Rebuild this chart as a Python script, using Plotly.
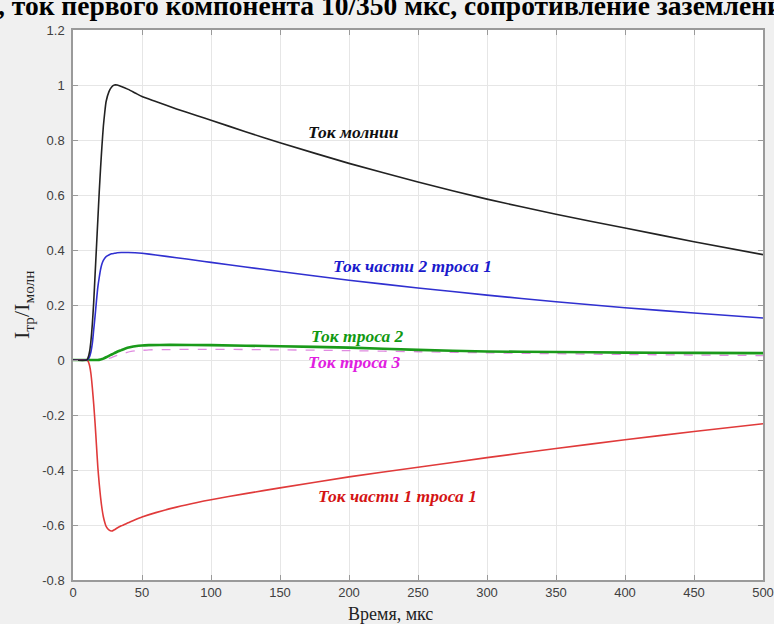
import plotly.graph_objects as go

# Time samples, microseconds
t_fast = [0, 10, 11, 12, 13, 14, 15, 16, 17, 18, 19, 20, 21, 22, 23, 24, 26, 28, 30, 32, 35, 40, 45, 50, 60,
          75, 90, 100, 125, 150, 200, 250, 300, 350, 400, 450, 500]

# Lightning current, normalised
i_lightning = [0, 0, 0.01, 0.03, 0.07, 0.13, 0.21, 0.31, 0.41, 0.51, 0.61, 0.70, 0.78, 0.85, 0.90, 0.94, 0.975, 0.993, 1.0, 1.0,
               0.995, 0.984, 0.971, 0.958, 0.94, 0.913, 0.888, 0.872, 0.83, 0.79, 0.715, 0.647, 0.585, 0.53, 0.48, 0.43, 0.383]

# Part 2 of cable 1
i_part2 = [0, 0, 0.003, 0.012, 0.03, 0.06, 0.11, 0.16, 0.215, 0.265, 0.30, 0.33, 0.35, 0.362, 0.37, 0.376, 0.382, 0.386, 0.388, 0.39,
           0.391, 0.391, 0.39, 0.388, 0.382, 0.372, 0.362, 0.355, 0.338, 0.322, 0.29, 0.262, 0.236, 0.212, 0.19, 0.171, 0.153]

# Part 1 of cable 1
i_part1 = [0, 0, -0.005, -0.02, -0.05, -0.1, -0.16, -0.23, -0.31, -0.39, -0.45, -0.50, -0.54, -0.57, -0.59, -0.605, -0.618, -0.622, -0.617, -0.611,
           -0.603, -0.592, -0.581, -0.571, -0.555, -0.535, -0.518, -0.508, -0.486, -0.465, -0.425, -0.39, -0.355, -0.322, -0.29, -0.26, -0.232]

t_slow = [0, 10, 18, 20, 22, 24, 26, 28, 30, 32, 35, 38, 42, 45, 50, 55, 70, 100, 150, 200, 250, 300, 350, 400, 450, 500]

# Cable 2
i_cable2 = [0, 0, 0, 0.002, 0.005, 0.01, 0.015, 0.02, 0.025, 0.03, 0.036, 0.042, 0.047, 0.05, 0.053, 0.054, 0.055, 0.054, 0.05, 0.045,
            0.037, 0.031, 0.029, 0.027, 0.026, 0.025]

# Cable 3
i_cable3 = [0, 0, 0, 0, 0.001, 0.003, 0.006, 0.009, 0.013, 0.017, 0.022, 0.026, 0.031, 0.033, 0.035, 0.037, 0.038, 0.039, 0.037, 0.034,
            0.03, 0.026, 0.023, 0.02, 0.018, 0.016]

x_ticks = [0, 50, 100, 150, 200, 250, 300, 350, 400, 450, 500]
y_ticks = [-0.8, -0.6, -0.4, -0.2, 0, 0.2, 0.4, 0.6, 0.8, 1, 1.2]
y_tick_text = ["-0.8", "-0.6", "-0.4", "-0.2", "0", "0.2", "0.4", "0.6", "0.8", "1", "1.2"]

labels = ["Ток молнии", "Ток части 2 троса 1", "Ток троса 2", "Ток троса 3", "Ток части 1 троса 1"]
label_t = [203, 246, 206, 204, 235]
label_v = [0.83, 0.342, 0.087, -0.007, -0.495]
label_colors = ["#111111", "#1a1acc", "#119911", "#e020e0", "#d41414"]

fig = go.Figure()
fig.add_trace(go.Scatter(x=t_slow, y=i_cable3, mode="lines",
                         line=dict(color="#e08ae0", width=1.3, dash="dash", shape="spline", smoothing=0.6)))
fig.add_trace(go.Scatter(x=t_slow, y=i_cable2, mode="lines",
                         line=dict(color="#1a9a1a", width=2.6, shape="spline", smoothing=0.6)))
fig.add_trace(go.Scatter(x=t_fast, y=i_part1, mode="lines",
                         line=dict(color="#e03a3a", width=1.6, shape="spline", smoothing=0.6)))
fig.add_trace(go.Scatter(x=t_fast, y=i_part2, mode="lines",
                         line=dict(color="#3030d0", width=1.6, shape="spline", smoothing=0.6)))
fig.add_trace(go.Scatter(x=t_fast, y=i_lightning, mode="lines",
                         line=dict(color="#222222", width=1.6, shape="spline", smoothing=0.6)))

for txt, tx, ty, c in zip(labels, label_t, label_v, label_colors):
    fig.add_annotation(x=tx, y=ty, xref="x", yref="y", text="<b><i>" + txt + "</i></b>",
                       showarrow=False, font=dict(family="Liberation Serif", size=17.5, color=c))

# Title line running across the top edge
fig.add_annotation(x=(390 - 73) / 690, y=1.0, xref="paper", yref="paper", xanchor="center", yanchor="bottom",
                   text="<b>, ток первого компонента 10/350 мкс, сопротивление заземлени</b>",
                   showarrow=False, yshift=7,
                   font=dict(family="Liberation Serif", size=27.5, color="#000000"))

# Axis titles
fig.add_annotation(x=(390 - 73) / 690, y=0, xref="paper", yref="paper", yanchor="top",
                   text="Время, мкс", showarrow=False, yshift=-22,
                   font=dict(family="Liberation Serif", size=18, color="#222222"))
fig.add_annotation(x=0, y=(580 - 305) / 550, xref="paper", yref="paper", xanchor="center",
                   text="I<sub>тр</sub>/I<sub>молн</sub>", showarrow=False, textangle=-90, xshift=-50,
                   font=dict(family="Liberation Serif", size=22, color="#222222"))

axis_common = dict(showline=True, linecolor="#9a9a9a", linewidth=1.5, mirror="ticks",
                   ticks="inside", ticklen=5, tickcolor="#9a9a9a", tickwidth=1,
                   showgrid=True, gridcolor="#e6e6e6", gridwidth=1, zeroline=False, automargin=False,
                   tickfont=dict(family="Liberation Sans", size=13, color="#404040"))

fig.update_xaxes(range=[0, 500], tickvals=x_ticks, **axis_common)
fig.update_yaxes(range=[-0.8, 1.2], tickvals=y_ticks, ticktext=y_tick_text, ticklabelstandoff=4, **axis_common)

fig.update_layout(width=774, height=624, showlegend=False,
                  margin=dict(l=73, r=11, t=30, b=44),
                  paper_bgcolor="#f0f0f0", plot_bgcolor="#ffffff")

fig.write_html("out.html")
